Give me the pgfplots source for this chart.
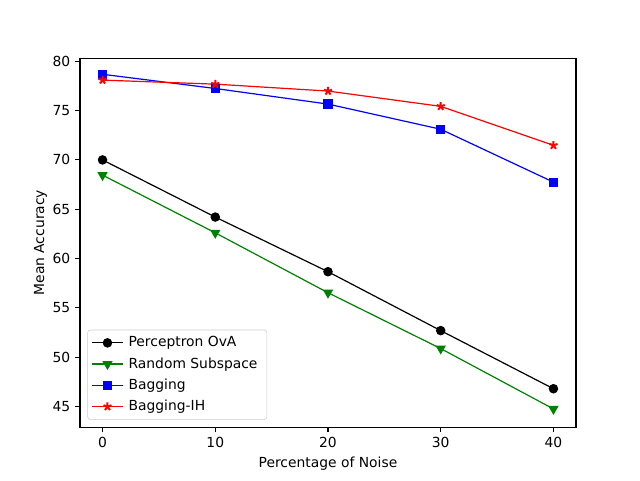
\documentclass[border=0pt]{standalone}
\usepackage{pgfplots}
\pgfplotsset{compat=1.18}
\usepackage{fontspec}
\setmainfont{DejaVu Sans}
\definecolor{mplgreen}{rgb}{0,0.5,0}
\begin{document}
\fontsize{10.4}{12.5}\selectfont
\begin{tikzpicture}
\path (0,0) rectangle (480pt,360pt);
\begin{axis}[
  at={(60pt,39.6pt)}, anchor=south west,
  scale only axis, width=372pt, height=276.75pt,
  xmin=-2, xmax=42, ymin=42.9, ymax=80.3,
  xtick={0,10,20,30,40}, ytick={45,50,55,60,65,70,75,80},
  tick pos=left, tick align=outside,
  major tick length=3.65pt,
  /pgf/number format/assume math mode=true,
  ticklabel style={font=\fontsize{10.4}{12.5}\selectfont},
  label style={font=\fontsize{10.4}{12.5}\selectfont},
  xlabel={Percentage of Noise}, ylabel={Mean Accuracy},
  ylabel style={yshift=-3pt},
  axis line style={line width=0.8pt},
  every tick/.style={line width=0.8pt, black},
  legend style={at={(0.015,0.02)}, anchor=south west, draw=black!20, rounded corners=2pt,
     font=\fontsize{10.4}{12.5}\selectfont, row sep=2.5pt, inner sep=3pt,
     nodes={inner xsep=4pt}},
  legend cell align=left,
  legend image code/.code={\draw[mark repeat=2,mark phase=2] plot coordinates {(0cm,0cm) (0.4cm,0cm) (0.8cm,0cm)};},
]
\addplot[black, line width=0.9pt, mark=*, mark size=3.1pt] coordinates {(0,69.99) (10,64.2) (20,58.66) (30,52.69) (40,46.8)};
\addlegendentry{Perceptron OvA}
\addplot[mplgreen, line width=0.9pt, mark=triangle*, mark size=3.6pt, mark options={rotate=180}] coordinates {(0,68.45) (10,62.6) (20,56.53) (30,50.87) (40,44.75)};
\addlegendentry{Random Subspace}
\addplot[blue, line width=0.9pt, mark=square*, mark size=3pt] coordinates {(0,78.67) (10,77.23) (20,75.65) (30,73.1) (40,67.74)};
\addlegendentry{Bagging}
\addplot[red, line width=0.9pt, mark=star, mark size=3.2pt, mark options={fill=red, line width=1.5pt}] coordinates {(0,78.08) (10,77.67) (20,76.97) (30,75.42) (40,71.47)};
\addlegendentry{Bagging-IH}
\end{axis}
\end{tikzpicture}
\end{document}
